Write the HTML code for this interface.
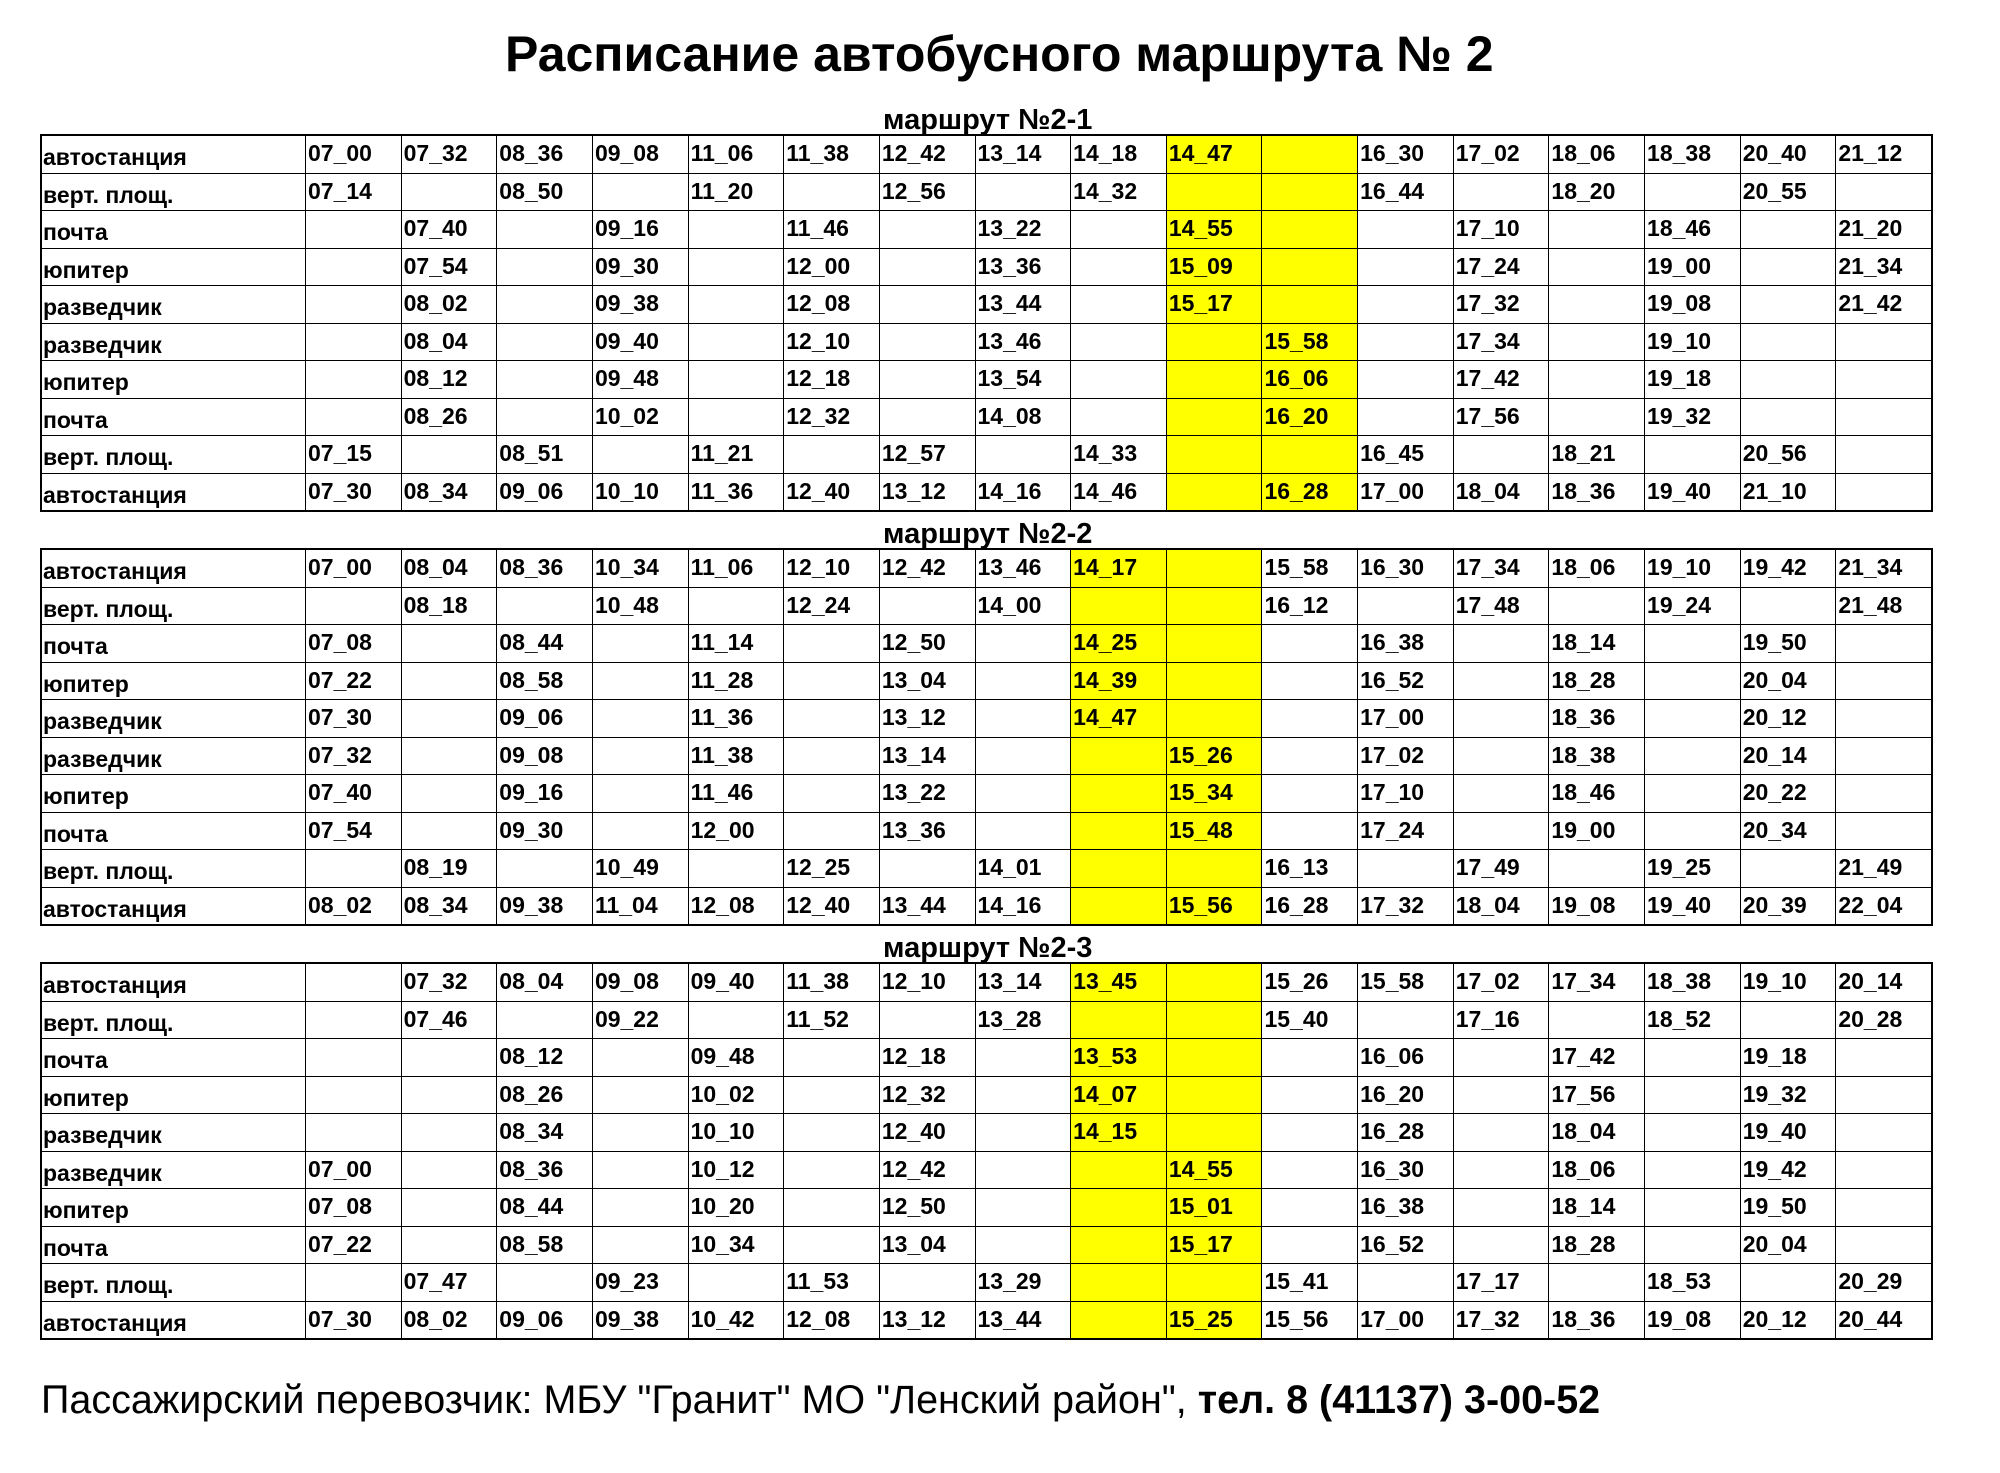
<!DOCTYPE html>
<html><head><meta charset="utf-8">
<style>
html,body{margin:0;padding:0;background:#fff;}
body{width:2000px;height:1473px;position:relative;overflow:hidden;font-family:"Liberation Sans",Arial,sans-serif;color:#000;}
.title{position:absolute;left:505px;top:29px;font-weight:bold;font-size:50px;line-height:50px;white-space:nowrap;}
.sub{position:absolute;left:883px;font-weight:bold;font-size:29px;line-height:29px;white-space:nowrap;}
.t{position:absolute;left:40px;width:1893px;height:378px;box-sizing:border-box;border:2px solid #000;background:#000;display:grid;grid-template-columns:263px repeat(17,1fr);grid-template-rows:repeat(10,1fr);gap:1px;}
.t>div{background:#fff;font-weight:bold;font-size:23px;line-height:23px;padding:6px 0 0 2px;white-space:nowrap;overflow:hidden;box-sizing:border-box;}
.t>div.l{padding:10px 0 0 1px;}
.t>div.y{background:#ff0;}
.foot{position:absolute;left:41px;top:1380px;font-size:39.5px;line-height:40px;white-space:nowrap;}
</style></head><body>
<div class="title">Расписание автобусного маршрута № 2</div>

<div class="sub" style="top:106px">маршрут №2-1</div>
<div class="t" style="top:134px">
<div class="l">автостанция</div><div>07_00</div><div>07_32</div><div>08_36</div><div>09_08</div><div>11_06</div><div>11_38</div><div>12_42</div><div>13_14</div><div>14_18</div><div class="y">14_47</div><div class="y"></div><div>16_30</div><div>17_02</div><div>18_06</div><div>18_38</div><div>20_40</div><div>21_12</div>
<div class="l">верт. площ.</div><div>07_14</div><div></div><div>08_50</div><div></div><div>11_20</div><div></div><div>12_56</div><div></div><div>14_32</div><div class="y"></div><div class="y"></div><div>16_44</div><div></div><div>18_20</div><div></div><div>20_55</div><div></div>
<div class="l">почта</div><div></div><div>07_40</div><div></div><div>09_16</div><div></div><div>11_46</div><div></div><div>13_22</div><div></div><div class="y">14_55</div><div class="y"></div><div></div><div>17_10</div><div></div><div>18_46</div><div></div><div>21_20</div>
<div class="l">юпитер</div><div></div><div>07_54</div><div></div><div>09_30</div><div></div><div>12_00</div><div></div><div>13_36</div><div></div><div class="y">15_09</div><div class="y"></div><div></div><div>17_24</div><div></div><div>19_00</div><div></div><div>21_34</div>
<div class="l">разведчик</div><div></div><div>08_02</div><div></div><div>09_38</div><div></div><div>12_08</div><div></div><div>13_44</div><div></div><div class="y">15_17</div><div class="y"></div><div></div><div>17_32</div><div></div><div>19_08</div><div></div><div>21_42</div>
<div class="l">разведчик</div><div></div><div>08_04</div><div></div><div>09_40</div><div></div><div>12_10</div><div></div><div>13_46</div><div></div><div class="y"></div><div class="y">15_58</div><div></div><div>17_34</div><div></div><div>19_10</div><div></div><div></div>
<div class="l">юпитер</div><div></div><div>08_12</div><div></div><div>09_48</div><div></div><div>12_18</div><div></div><div>13_54</div><div></div><div class="y"></div><div class="y">16_06</div><div></div><div>17_42</div><div></div><div>19_18</div><div></div><div></div>
<div class="l">почта</div><div></div><div>08_26</div><div></div><div>10_02</div><div></div><div>12_32</div><div></div><div>14_08</div><div></div><div class="y"></div><div class="y">16_20</div><div></div><div>17_56</div><div></div><div>19_32</div><div></div><div></div>
<div class="l">верт. площ.</div><div>07_15</div><div></div><div>08_51</div><div></div><div>11_21</div><div></div><div>12_57</div><div></div><div>14_33</div><div class="y"></div><div class="y"></div><div>16_45</div><div></div><div>18_21</div><div></div><div>20_56</div><div></div>
<div class="l">автостанция</div><div>07_30</div><div>08_34</div><div>09_06</div><div>10_10</div><div>11_36</div><div>12_40</div><div>13_12</div><div>14_16</div><div>14_46</div><div class="y"></div><div class="y">16_28</div><div>17_00</div><div>18_04</div><div>18_36</div><div>19_40</div><div>21_10</div><div></div>
</div>

<div class="sub" style="top:520px">маршрут №2-2</div>
<div class="t" style="top:548px">
<div class="l">автостанция</div><div>07_00</div><div>08_04</div><div>08_36</div><div>10_34</div><div>11_06</div><div>12_10</div><div>12_42</div><div>13_46</div><div class="y">14_17</div><div class="y"></div><div>15_58</div><div>16_30</div><div>17_34</div><div>18_06</div><div>19_10</div><div>19_42</div><div>21_34</div>
<div class="l">верт. площ.</div><div></div><div>08_18</div><div></div><div>10_48</div><div></div><div>12_24</div><div></div><div>14_00</div><div class="y"></div><div class="y"></div><div>16_12</div><div></div><div>17_48</div><div></div><div>19_24</div><div></div><div>21_48</div>
<div class="l">почта</div><div>07_08</div><div></div><div>08_44</div><div></div><div>11_14</div><div></div><div>12_50</div><div></div><div class="y">14_25</div><div class="y"></div><div></div><div>16_38</div><div></div><div>18_14</div><div></div><div>19_50</div><div></div>
<div class="l">юпитер</div><div>07_22</div><div></div><div>08_58</div><div></div><div>11_28</div><div></div><div>13_04</div><div></div><div class="y">14_39</div><div class="y"></div><div></div><div>16_52</div><div></div><div>18_28</div><div></div><div>20_04</div><div></div>
<div class="l">разведчик</div><div>07_30</div><div></div><div>09_06</div><div></div><div>11_36</div><div></div><div>13_12</div><div></div><div class="y">14_47</div><div class="y"></div><div></div><div>17_00</div><div></div><div>18_36</div><div></div><div>20_12</div><div></div>
<div class="l">разведчик</div><div>07_32</div><div></div><div>09_08</div><div></div><div>11_38</div><div></div><div>13_14</div><div></div><div class="y"></div><div class="y">15_26</div><div></div><div>17_02</div><div></div><div>18_38</div><div></div><div>20_14</div><div></div>
<div class="l">юпитер</div><div>07_40</div><div></div><div>09_16</div><div></div><div>11_46</div><div></div><div>13_22</div><div></div><div class="y"></div><div class="y">15_34</div><div></div><div>17_10</div><div></div><div>18_46</div><div></div><div>20_22</div><div></div>
<div class="l">почта</div><div>07_54</div><div></div><div>09_30</div><div></div><div>12_00</div><div></div><div>13_36</div><div></div><div class="y"></div><div class="y">15_48</div><div></div><div>17_24</div><div></div><div>19_00</div><div></div><div>20_34</div><div></div>
<div class="l">верт. площ.</div><div></div><div>08_19</div><div></div><div>10_49</div><div></div><div>12_25</div><div></div><div>14_01</div><div class="y"></div><div class="y"></div><div>16_13</div><div></div><div>17_49</div><div></div><div>19_25</div><div></div><div>21_49</div>
<div class="l">автостанция</div><div>08_02</div><div>08_34</div><div>09_38</div><div>11_04</div><div>12_08</div><div>12_40</div><div>13_44</div><div>14_16</div><div class="y"></div><div class="y">15_56</div><div>16_28</div><div>17_32</div><div>18_04</div><div>19_08</div><div>19_40</div><div>20_39</div><div>22_04</div>
</div>

<div class="sub" style="top:934px">маршрут №2-3</div>
<div class="t" style="top:962px">
<div class="l">автостанция</div><div></div><div>07_32</div><div>08_04</div><div>09_08</div><div>09_40</div><div>11_38</div><div>12_10</div><div>13_14</div><div class="y">13_45</div><div class="y"></div><div>15_26</div><div>15_58</div><div>17_02</div><div>17_34</div><div>18_38</div><div>19_10</div><div>20_14</div>
<div class="l">верт. площ.</div><div></div><div>07_46</div><div></div><div>09_22</div><div></div><div>11_52</div><div></div><div>13_28</div><div class="y"></div><div class="y"></div><div>15_40</div><div></div><div>17_16</div><div></div><div>18_52</div><div></div><div>20_28</div>
<div class="l">почта</div><div></div><div></div><div>08_12</div><div></div><div>09_48</div><div></div><div>12_18</div><div></div><div class="y">13_53</div><div class="y"></div><div></div><div>16_06</div><div></div><div>17_42</div><div></div><div>19_18</div><div></div>
<div class="l">юпитер</div><div></div><div></div><div>08_26</div><div></div><div>10_02</div><div></div><div>12_32</div><div></div><div class="y">14_07</div><div class="y"></div><div></div><div>16_20</div><div></div><div>17_56</div><div></div><div>19_32</div><div></div>
<div class="l">разведчик</div><div></div><div></div><div>08_34</div><div></div><div>10_10</div><div></div><div>12_40</div><div></div><div class="y">14_15</div><div class="y"></div><div></div><div>16_28</div><div></div><div>18_04</div><div></div><div>19_40</div><div></div>
<div class="l">разведчик</div><div>07_00</div><div></div><div>08_36</div><div></div><div>10_12</div><div></div><div>12_42</div><div></div><div class="y"></div><div class="y">14_55</div><div></div><div>16_30</div><div></div><div>18_06</div><div></div><div>19_42</div><div></div>
<div class="l">юпитер</div><div>07_08</div><div></div><div>08_44</div><div></div><div>10_20</div><div></div><div>12_50</div><div></div><div class="y"></div><div class="y">15_01</div><div></div><div>16_38</div><div></div><div>18_14</div><div></div><div>19_50</div><div></div>
<div class="l">почта</div><div>07_22</div><div></div><div>08_58</div><div></div><div>10_34</div><div></div><div>13_04</div><div></div><div class="y"></div><div class="y">15_17</div><div></div><div>16_52</div><div></div><div>18_28</div><div></div><div>20_04</div><div></div>
<div class="l">верт. площ.</div><div></div><div>07_47</div><div></div><div>09_23</div><div></div><div>11_53</div><div></div><div>13_29</div><div class="y"></div><div class="y"></div><div>15_41</div><div></div><div>17_17</div><div></div><div>18_53</div><div></div><div>20_29</div>
<div class="l">автостанция</div><div>07_30</div><div>08_02</div><div>09_06</div><div>09_38</div><div>10_42</div><div>12_08</div><div>13_12</div><div>13_44</div><div class="y"></div><div class="y">15_25</div><div>15_56</div><div>17_00</div><div>17_32</div><div>18_36</div><div>19_08</div><div>20_12</div><div>20_44</div>
</div>

<div class="foot">Пассажирский перевозчик: МБУ "Гранит" МО "Ленский район", <b>тел. 8 (41137) 3-00-52</b></div>
</body></html>
